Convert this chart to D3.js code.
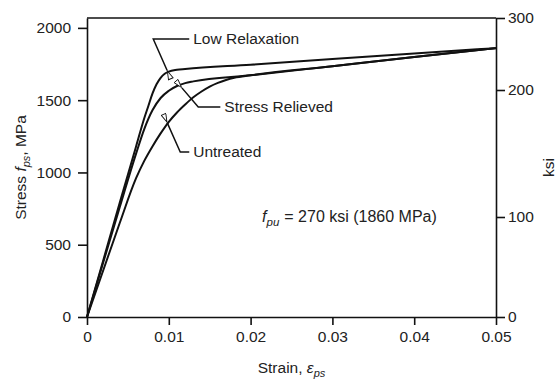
<!DOCTYPE html>
<html>
<head>
<meta charset="utf-8">
<script src="https://cdn.jsdelivr.net/npm/d3@7"></script>
<style>
  body { margin: 0; background: #fff; }
  svg { display: block; font-family: "Liberation Sans", Arial, sans-serif; }
  .axis text { font-size: 15.5px; fill: #222; }
  .axis line, .axis path { stroke: #111; stroke-width: 1.6px; }
</style>
</head>
<body>
<svg id="chart" width="559" height="381"></svg>
<script>
// strain (in/in) and stress (MPa)
var lowRelaxStrain = [0, 0.002, 0.004, 0.006, 0.007, 0.0075, 0.008, 0.0085, 0.009, 0.0095, 0.01, 0.011, 0.012, 0.02, 0.03, 0.04, 0.05];
var lowRelaxStress = [0, 395, 790, 1180, 1375, 1460, 1545, 1610, 1655, 1683, 1698, 1710, 1716, 1745, 1785, 1823, 1860];

var relievedStrain = [0, 0.002, 0.004, 0.006, 0.007, 0.008, 0.009, 0.01, 0.011, 0.012, 0.013, 0.02, 0.03, 0.04, 0.05];
var relievedStress = [0, 380, 760, 1130, 1300, 1430, 1515, 1565, 1598, 1618, 1630, 1672, 1735, 1798, 1860];

var untreatedStrain = [0, 0.002, 0.004, 0.006, 0.007, 0.008, 0.009, 0.01, 0.011, 0.012, 0.013, 0.014, 0.015, 0.016, 0.017, 0.018, 0.02, 0.03, 0.04, 0.05];
var untreatedStress = [0, 325, 650, 960, 1080, 1180, 1270, 1350, 1415, 1470, 1520, 1560, 1594, 1620, 1640, 1655, 1672, 1735, 1798, 1860];

var strainTicks = [0, 0.01, 0.02, 0.03, 0.04, 0.05];
var mpaTicks = [0, 500, 1000, 1500, 2000];
var ksiTicks = [0, 100, 200, 300];

// curve labels: arrow tip, elbow, end of leader (strain, MPa)
var labelNames = ['Low Relaxation', 'Stress Relieved', 'Untreated'];
var labelTip = [[0.0098, 1705], [0.0116, 1585], [0.0098, 1345]];
var labelElbow = [[0.0081, 1923], [0.0136, 1453], [0.0114, 1141]];
var labelEnd = [[0.0125, 1923], [0.0163, 1453], [0.0125, 1141]];

var MPA_PER_KSI = 6.894757;

var svg = d3.select('#chart');
var plotLeft = 87, plotRight = 496, plotTop = 18, plotBottom = 317;

var x = d3.scaleLinear().domain([0, 0.05]).range([plotLeft, plotRight]);
var y = d3.scaleLinear().domain([0, 300 * MPA_PER_KSI]).range([plotBottom, plotTop]);
// the ksi ticks in the printed figure are not evenly spaced
var yKsi = d3.scaleLinear().domain([0, 100, 200, 300]).range([plotBottom, 217, 90, plotTop]);

function pairs(xs, ys) {
  return xs.map(function(v, i) { return [v, ys[i]]; });
}

// frame top line
svg.append('line')
  .attr('x1', x(0)).attr('x2', x(0.05))
  .attr('y1', yKsi(300)).attr('y2', yKsi(300))
  .attr('stroke', '#111').attr('stroke-width', 1.6);

svg.append('g').attr('class', 'axis')
  .attr('transform', 'translate(0,' + plotBottom + ')')
  .call(d3.axisBottom(x).tickValues(strainTicks).tickSize(8).tickSizeOuter(0).tickPadding(6)
    .tickFormat(function(d) { return d === 0 ? '0' : d3.format('.2f')(d); }));

svg.append('g').attr('class', 'axis')
  .attr('transform', 'translate(' + plotLeft + ',0)')
  .call(d3.axisLeft(y).tickValues(mpaTicks).tickSize(9).tickSizeOuter(0).tickPadding(7)
    .tickFormat(d3.format('d')));

svg.append('g').attr('class', 'axis')
  .attr('transform', 'translate(' + plotRight + ',0)')
  .call(d3.axisRight(yKsi).tickValues(ksiTicks).tickSize(9).tickSizeOuter(0).tickPadding(3)
    .tickFormat(d3.format('d')));

// axis titles
var leftTitle = svg.append('text')
  .attr('transform', 'translate(26,' + ((plotTop + plotBottom) / 2) + ') rotate(-90)')
  .attr('text-anchor', 'middle')
  .style('font-size', '15.5px').style('fill', '#222');
leftTitle.append('tspan').text('Stress ');
leftTitle.append('tspan').style('font-style', 'italic').text('f');
leftTitle.append('tspan').style('font-style', 'italic').style('font-size', '11px').attr('dy', 4).text('ps');
leftTitle.append('tspan').attr('dy', -4).text(', MPa');

svg.append('text')
  .attr('transform', 'translate(554,' + ((plotTop + plotBottom) / 2) + ') rotate(-90)')
  .attr('text-anchor', 'middle')
  .style('font-size', '15.5px').style('fill', '#222')
  .text('ksi');

var bottomTitle = svg.append('text')
  .attr('x', (plotLeft + plotRight) / 2).attr('y', 373)
  .attr('text-anchor', 'middle')
  .style('font-size', '15.5px').style('fill', '#222');
bottomTitle.append('tspan').text('Strain, ');
bottomTitle.append('tspan').style('font-style', 'italic').text('\u03b5');
bottomTitle.append('tspan').style('font-style', 'italic').style('font-size', '11px').attr('dy', 4).text('ps');

// curves
var line = d3.line()
  .x(function(d) { return x(d[0]); })
  .y(function(d) { return y(d[1]); })
  .curve(d3.curveMonotoneX);

[pairs(lowRelaxStrain, lowRelaxStress), pairs(relievedStrain, relievedStress), pairs(untreatedStrain, untreatedStress)]
  .forEach(function(series) {
    svg.append('path')
      .datum(series)
      .attr('d', line)
      .attr('fill', 'none')
      .attr('stroke', '#111')
      .attr('stroke-width', 2);
  });

// leader lines with open arrowheads
svg.append('defs').append('marker')
  .attr('id', 'arrow')
  .attr('viewBox', '0 0 10 6')
  .attr('refX', 0).attr('refY', 3)
  .attr('markerWidth', 10).attr('markerHeight', 6)
  .attr('markerUnits', 'userSpaceOnUse')
  .attr('orient', 'auto-start-reverse')
  .append('path')
  .attr('d', 'M9,0.5 L0.5,3 L9,5.5 Z')
  .attr('fill', '#fff').attr('stroke', '#111').attr('stroke-width', 0.9);

labelNames.forEach(function(name, i) {
  var pts = [labelTip[i], labelElbow[i], labelEnd[i]];
  svg.append('path')
    .attr('d', d3.line().x(function(d) { return x(d[0]); }).y(function(d) { return y(d[1]); })(pts))
    .attr('fill', 'none')
    .attr('stroke', '#111')
    .attr('stroke-width', 1.5)
    .attr('marker-start', 'url(#arrow)');
  svg.append('text')
    .attr('x', x(labelEnd[i][0]) + 4)
    .attr('y', y(labelEnd[i][1]))
    .attr('dy', '0.35em')
    .style('font-size', '15.5px').style('fill', '#222')
    .text(name);
});

// ultimate strength note
var note = svg.append('text')
  .attr('x', x(0.0214)).attr('y', y(660))
  .style('font-size', '16px').style('fill', '#222');
note.append('tspan').style('font-style', 'italic').text('f');
note.append('tspan').style('font-style', 'italic').style('font-size', '11.5px').attr('dy', 4).text('pu');
note.append('tspan').attr('dy', -4).attr('dx', 5).text('= 270 ksi (1860 MPa)');
</script>
</body>
</html>
